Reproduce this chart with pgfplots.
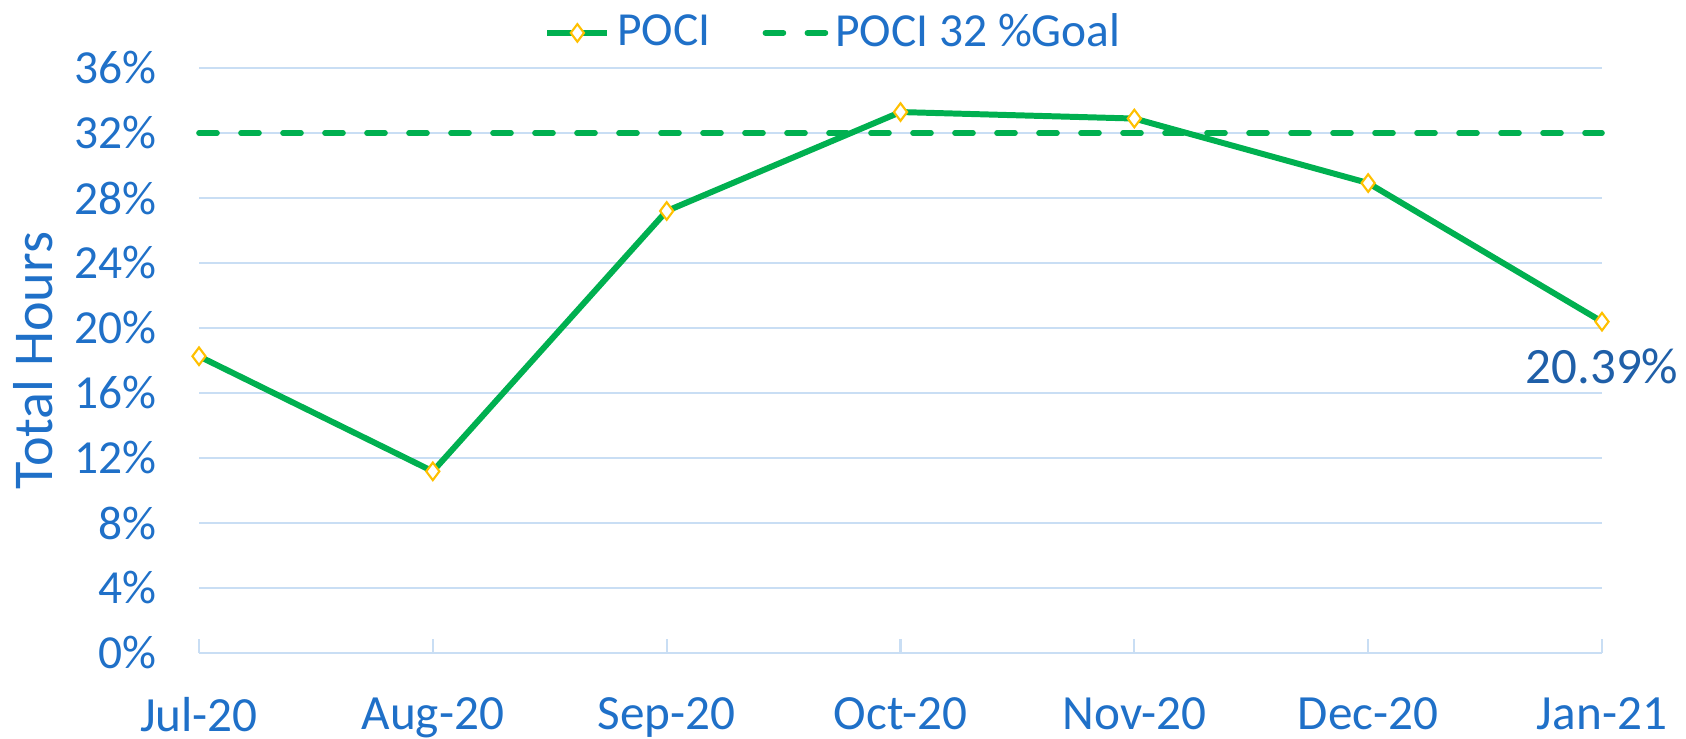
\documentclass[border=0pt]{standalone}
\usepackage{pgfplots}
\pgfplotsset{compat=1.18}
\usepackage{fontspec}
\setmainfont{Carlito}
\definecolor{txtblue}{HTML}{1F70C8}
\definecolor{lblblue}{HTML}{1F5FA8}
\definecolor{gridblue}{HTML}{C9DEF4}
\definecolor{pgreen}{HTML}{00B050}
\definecolor{porange}{HTML}{FFC000}
\begin{document}
\begin{tikzpicture}
\useasboundingbox (0,0) rectangle (16.86cm,7.38cm);
\begin{axis}[
  at={(1.99cm,0.85cm)}, anchor=south west,
  scale only axis, width=14.03cm, height=5.85cm,
  xmin=0, xmax=6, ymin=0, ymax=36,
  xtick={0,1,2,3,4,5,6},
  xticklabels={Jul-20,Aug-20,Sep-20,Oct-20,Nov-20,Dec-20,Jan-21},
  ytick={0,4,8,12,16,20,24,28,32,36},
  yticklabel={\pgfmathprintnumber{\tick}\%},
  /pgf/number format/assume math mode=true,
  ymajorgrids, grid style={gridblue, line width=0.6pt},
  axis lines*=left,
  separate axis lines,
  x axis line style={gridblue, line width=0.6pt, -},
  y axis line style={draw=none},
  ytick style={draw=none},
  xtick style={gridblue, line width=0.6pt},
  xtick align=inside, major tick length=1.4mm,
  tick label style={text=txtblue},
  xticklabel style={font=\fontsize{14}{16}\selectfont, yshift=-3.2mm},
  yticklabel style={font=\fontsize{13.5}{16}\selectfont, xshift=-3mm},
  ylabel={Total Hours}, ylabel style={font=\fontsize{16}{19}\selectfont, text=txtblue, at={(rel axis cs:0,0.5)}, anchor=center, yshift=16.6mm},
  legend style={draw=none, at={(0.454,1.06)}, anchor=center, legend columns=2, font=\fontsize{13.5}{15}\selectfont, text=txtblue, /tikz/every even column/.append style={column sep=4.5mm}},
  legend cell align=left,
  clip=false,
]
\addplot[pgreen, line width=1.7pt, mark=diamond*, mark size=2.5pt, mark options={fill=white, draw=porange, line width=0.6pt}] coordinates {
(0,18.26) (1,11.18) (2,27.2) (3,33.29) (4,32.89) (5,28.92) (6,20.39)};
\addlegendentry{POCI}
\addplot[pgreen, line width=1.6pt, line cap=round, dash pattern=on 1.8mm off 2.4mm] coordinates {(0,32) (6,32)};
\addlegendentry{POCI 32 \%Goal}
\node[font=\fontsize{14.5}{17}\selectfont, text=lblblue, anchor=center] at (axis cs:6,20.39) [yshift=-4.5mm] {20.39\%};
\end{axis}
\end{tikzpicture}
\end{document}
